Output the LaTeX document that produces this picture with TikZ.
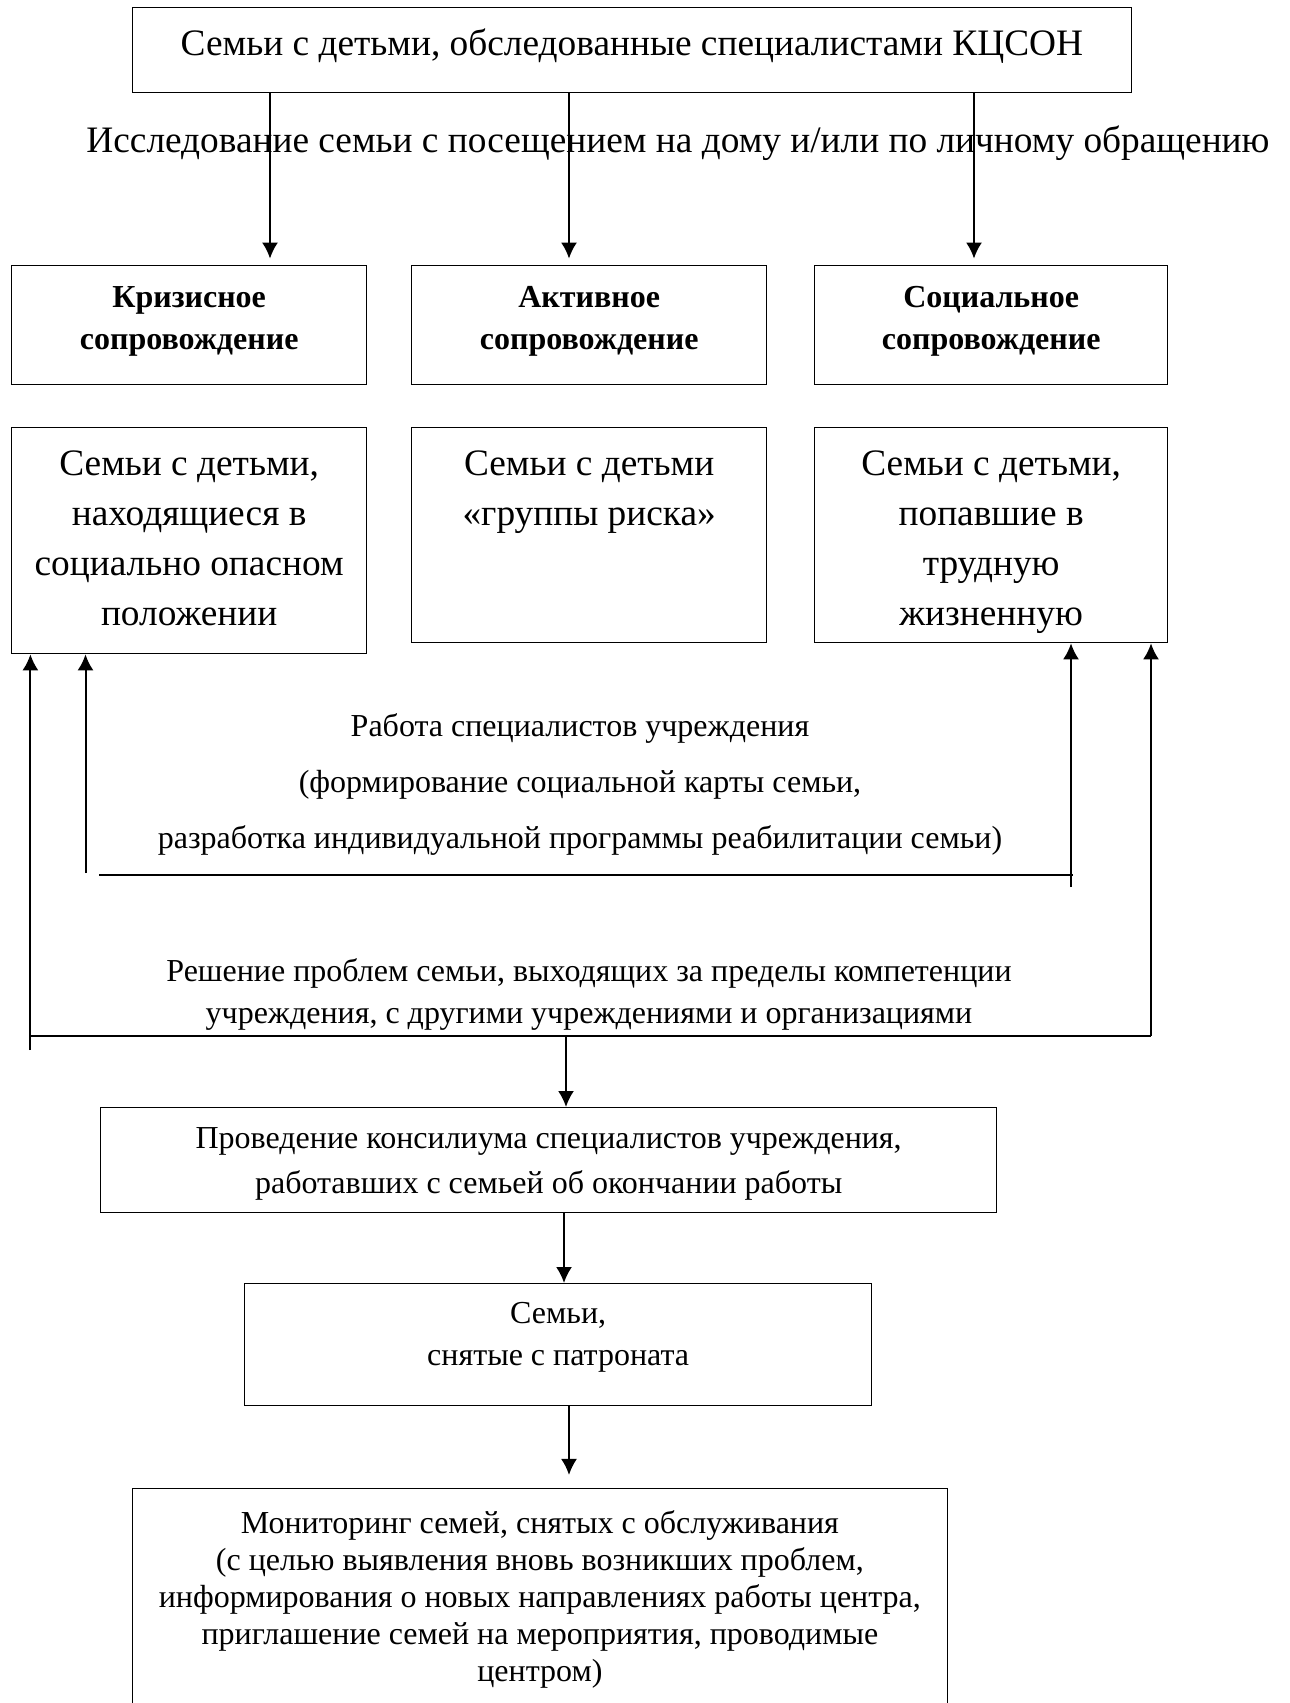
\documentclass[tikz,border=0pt]{standalone}
\usepackage{fontspec}
\setmainfont{Liberation Serif}
\usetikzlibrary{arrows.meta}
\newcommand{\pxu}{0.375pt}

\begin{document}
\begin{tikzpicture}[x=0.375pt,y=-0.375pt,inner sep=0pt]
\tikzstyle{box}=[rectangle, draw=black, line width=0.5pt, anchor=north west, align=center]
\tikzstyle{bigtxt}=[font=\fontsize{14}{18.75}\selectfont]
\tikzstyle{headtxt}=[font=\fontsize{12}{15.75}\selectfont\bfseries, text height=31.35pt, text depth=13.275pt]
\tikzstyle{smalltxt}=[font=\fontsize{12}{15.75}\selectfont, align=center]
\tikzstyle{connect}=[-{Latex[length=6pt,width=6pt]}, line width=0.75pt]
\tikzstyle{bar}=[line width=1pt]
\clip (0,0) rectangle (1289,1703);
% top and the three kinds of support
\node[box,bigtxt,minimum width=999.5*\pxu,text height=18pt,text depth=13.875pt] (top) at (131.5,7) {Семьи с детьми, обследованные специалистами КЦСОН};
\node[bigtxt] (issl) at (678,143) {Исследование семьи с посещением на дому и/или по личному обращению};
\node[box,headtxt,minimum width=355*\pxu] (kriz) at (11,265) {Кризисное\\сопровождение};
\node[box,headtxt,minimum width=355*\pxu] (aktiv) at (411,265) {Активное\\сопровождение};
\node[box,headtxt,minimum width=353*\pxu] (socs) at (814,265) {Социальное\\сопровождение};
\node[box,bigtxt,minimum width=355*\pxu,text height=74.05pt,text depth=10.7pt] (opas) at (11,427) {Семьи с детьми,\\находящиеся в\\социально опасном\\положении};
\node[box,bigtxt,minimum width=355*\pxu,text height=36.55pt,text depth=44.075pt] (risk) at (411,427) {Семьи с детьми\\«группы риска»};
\node[box,bigtxt,minimum width=353*\pxu,text height=74.05pt,text depth=6.575pt] (trud) at (814,427) {Семьи с детьми,\\попавшие в\\трудную\\жизненную};
% work of the specialists
\node[smalltxt,font=\fontsize{12}{21}\selectfont] (rabota) at (580,784) {Работа специалистов учреждения\\(формирование социальной карты семьи,\\разработка индивидуальной программы реабилитации семьи)};
\node[smalltxt] (resh) at (589,994) {Решение проблем семьи, выходящих за пределы компетенции\\учреждения, с другими учреждениями и организациями};
% end of work
\node[box,smalltxt,font=\fontsize{12}{16.9}\selectfont,minimum width=896*\pxu,text height=32.3pt,text depth=7.075pt] (konsil) at (100,1107) {Проведение консилиума специалистов учреждения,\\работавших с семьей об окончании работы};
\node[box,smalltxt,minimum width=627*\pxu,text height=30.5pt,text depth=15.25pt] (snyat) at (244,1283) {Семьи,\\снятые с патроната};
\node[box,smalltxt,font=\fontsize{12}{13.9}\selectfont,minimum width=815.5*\pxu,minimum height=222*\pxu] (monit) at (131.5,1488) {Мониторинг семей, снятых с обслуживания\\(с целью выявления вновь возникших проблем,\\информирования о новых направлениях работы центра,\\приглашение семей на мероприятия, проводимые\\центром)};
% connectors
\coordinate (xa) at (270,0);
\coordinate (xb) at (569,0);
\coordinate (xc) at (974,0);
\path (top.south -| xa) edge[connect,shorten >=2.4pt] (kriz.north -| xa);
\path (top.south -| xb) edge[connect,shorten >=2.4pt] (aktiv.north -| xb);
\path (top.south -| xc) edge[connect,shorten >=2.4pt] (socs.north -| xc);
\coordinate (inl) at (85.5,873);
\coordinate (inr) at (1071,887);
\coordinate (ina) at (99,875);
\coordinate (inb) at (1073,875);
\path (inl) edge[connect] (inl |- opas.south);
\path (inr) edge[connect] (inr |- trud.south);
\draw[bar] (ina) -- (inb);
\coordinate (outl) at (30.4,1050);
\coordinate (outa) at (30.4,1036);
\coordinate (outr) at (1151,1036);
\coordinate (outm) at (566,1036);
\path (outl) edge[connect] (outl |- opas.south);
\path (outr) edge[connect] (outr |- trud.south);
\draw[bar] (outa) -- (outr);
\path (outm) edge[connect] (outm |- konsil.north);
\coordinate (xd) at (564,0);
\coordinate (xe) at (569,0);
\path (konsil.south -| xd) edge[connect] (snyat.north -| xd);
\path (snyat.south -| xe) edge[connect,shorten >=4.9pt] (monit.north -| xe);
\end{tikzpicture}
\end{document}
